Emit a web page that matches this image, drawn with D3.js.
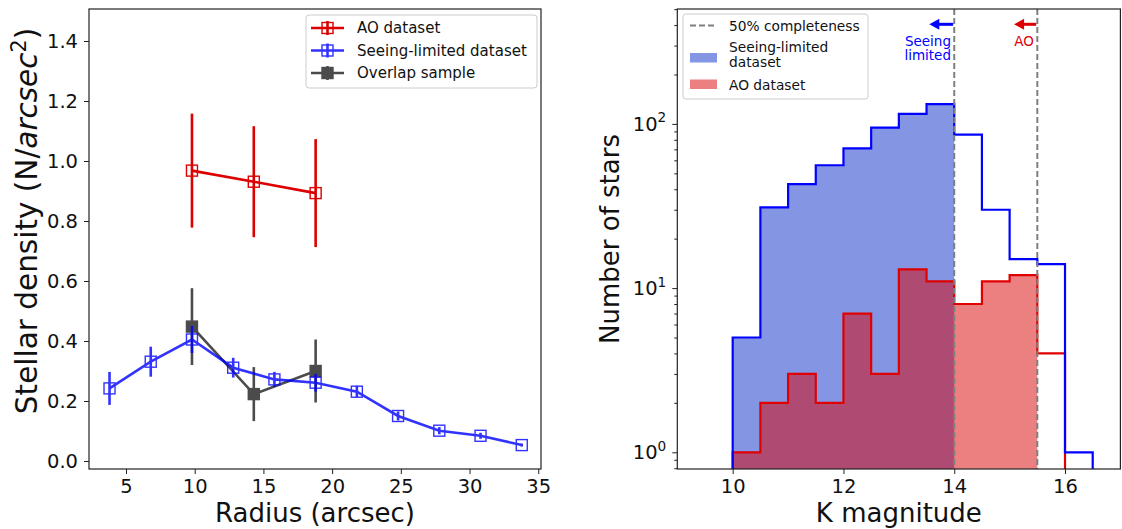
<!DOCTYPE html>
<html><head><meta charset="utf-8">
<script src="https://cdn.jsdelivr.net/npm/d3@7"></script>
<style>body{margin:0;background:#fff} svg text{font-family:"DejaVu Sans",sans-serif}</style>
</head><body><svg id="c" width="1122" height="529"></svg>
<script>
// ---------- data: left panel ----------
const blueRadius=[3.8,6.8,9.8,12.8,15.8,18.8,21.8,24.8,27.8,30.8,33.8];
const blueDensity=[0.242,0.331,0.405,0.311,0.272,0.261,0.231,0.150,0.101,0.084,0.053];
const blueErr=[0.055,0.050,0.045,0.033,0.025,0.030,0.020,0.015,0.012,0.010,0.005];
const aoRadius=[9.8,14.3,18.8];
const aoDensity=[0.968,0.931,0.893];
const aoErr=[0.19,0.185,0.18];
const overlapRadius=[9.8,14.3,18.8];
const overlapDensity=[0.448,0.223,0.300];
const overlapErr=[0.128,0.090,0.105];
const radiusTicks=[5,10,15,20,25,30,35];
const densityTicks=[0,0.2,0.4,0.6,0.8,1.0,1.2,1.4];
// ---------- data: right panel ----------
const binEdges=[10,10.5,11,11.5,12,12.5,13,13.5,14,14.5,15,15.5,16,16.5];
const seeingCounts=[5,31,43,56,71,95,115,132,86,30,15,14,1];
const aoCounts=[1,2,3,2,7,3,13,11,8,11,12,4];
const completeness=[14,15.5];
const magTicks=[10,12,14,16];
const countTicks=[1,10,100];

const svg=d3.select("#c");
const TICK_FS=19.5, LABEL_FS=26;

// ================= LEFT PANEL =================
const L={l:89,r:541,t:9,b:469};
const x1=d3.scaleLinear().domain([2.307,35.2]).range([L.l,L.r]);
const y1=d3.scaleLinear().domain([-0.0267,1.5067]).range([L.b,L.t]);

function styleAxis(g){
  g.select(".domain").remove();
  g.selectAll(".tick line").attr("stroke","#222").attr("stroke-width",1);
  g.selectAll(".tick text").attr("fill","#111").style("font-size",TICK_FS+"px");
}
svg.append("g").attr("transform",`translate(0,${L.b})`)
  .call(d3.axisBottom(x1).tickValues(radiusTicks).tickSize(5).tickPadding(5).tickFormat(d3.format("d")))
  .call(styleAxis);
svg.append("g").attr("transform",`translate(${L.l},0)`)
  .call(d3.axisLeft(y1).tickValues(densityTicks).tickSize(5).tickPadding(6).tickFormat(d3.format(".1f")))
  .call(styleAxis);

function drawSeries(xs,ys,es,color,opacity,filled){
  const g=svg.append("g").attr("opacity",opacity);
  const pts=xs.map((x,i)=>[x,ys[i],es[i]]);
  g.append("path").datum(pts)
    .attr("d",d3.line().x(d=>x1(d[0])).y(d=>y1(d[1])))
    .attr("fill","none").attr("stroke",color).attr("stroke-width",2.6);
  g.selectAll("line.err").data(pts).join("line")
    .attr("x1",d=>x1(d[0])).attr("x2",d=>x1(d[0]))
    .attr("y1",d=>y1(d[1]-d[2])).attr("y2",d=>y1(d[1]+d[2]))
    .attr("stroke",color).attr("stroke-width",2.6);
  g.selectAll("rect.m").data(pts).join("rect")
    .attr("x",d=>x1(d[0])-5.5).attr("y",d=>y1(d[1])-5.5)
    .attr("width",11).attr("height",11)
    .attr("fill",filled?color:"none").attr("stroke",color).attr("stroke-width",1.4);
}
drawSeries(aoRadius,aoDensity,aoErr,"#dd0000",1,false);
drawSeries(overlapRadius,overlapDensity,overlapErr,"#000",0.7,true);
drawSeries(blueRadius,blueDensity,blueErr,"#0000ff",0.8,false);

svg.append("rect").attr("x",L.l).attr("y",L.t).attr("width",L.r-L.l).attr("height",L.b-L.t)
  .attr("fill","none").attr("stroke","#222").attr("stroke-width",1.2);

// left legend
const lg=svg.append("g");
lg.append("rect").attr("x",306).attr("y",15).attr("width",231).attr("height",73).attr("rx",3)
  .attr("fill","#fff").attr("fill-opacity",0.8).attr("stroke","#ccc");
const legL=[{t:"AO dataset",c:"#dd0000",o:1,f:false},{t:"Seeing-limited dataset",c:"#0000ff",o:0.8,f:false},{t:"Overlap sample",c:"#000",o:0.7,f:true}];
legL.forEach((e,i)=>{
  const yy=28+i*22.5;
  const g=lg.append("g").attr("opacity",e.o);
  g.append("line").attr("x1",311).attr("x2",344).attr("y1",yy).attr("y2",yy).attr("stroke",e.c).attr("stroke-width",2.6);
  g.append("line").attr("x1",327.5).attr("x2",327.5).attr("y1",yy-7).attr("y2",yy+7).attr("stroke",e.c).attr("stroke-width",2.6);
  g.append("rect").attr("x",322).attr("y",yy-5.5).attr("width",11).attr("height",11)
    .attr("fill",e.f?e.c:"none").attr("stroke",e.c).attr("stroke-width",1.4);
  lg.append("text").attr("x",357).attr("y",yy+5.3).style("font-size","15px").attr("fill","#111").text(e.t);
});

// axis labels left
svg.append("text").attr("x",(L.l+L.r)/2).attr("y",522).attr("text-anchor","middle")
  .style("font-size",LABEL_FS+"px").attr("fill","#111").text("Radius (arcsec)");
const yl=svg.append("text").attr("transform",`translate(37,221) rotate(-90)`)
  .attr("text-anchor","middle").style("font-size","29.5px").attr("fill","#111");
yl.append("tspan").text("Stellar density (N/");
yl.append("tspan").attr("font-style","italic").text("arcsec");
yl.append("tspan").attr("dy","-0.55em").style("font-size","0.7em").text("2");
yl.append("tspan").attr("dy","0.385em").text(")");

// ================= RIGHT PANEL =================
const R={l:677.3,r:1120.4,t:9,b:469};
const x2=d3.scaleLinear().domain([9,17]).range([R.l,R.r]);
const y2=d3.scaleLog().domain([0.791,501]).range([R.b,R.t]);

svg.append("defs").append("clipPath").attr("id","clipR").append("rect")
  .attr("x",R.l).attr("y",R.t).attr("width",R.r-R.l).attr("height",R.b-R.t);
const plotR=svg.append("g").attr("clip-path","url(#clipR)");
const FLOOR=0.5;

function stepPoints(edges,counts){
  const pts=[[edges[0],FLOOR]];
  counts.forEach((c,i)=>{pts.push([edges[i],c]);pts.push([edges[i+1],c]);});
  pts.push([edges[counts.length],FLOOR]);
  return pts;
}
const lineR=d3.line().x(d=>x2(d[0])).y(d=>y2(Math.max(d[1],FLOOR)));
const seeFillN=binEdges.indexOf(completeness[0]);
const aoFillN=binEdges.indexOf(completeness[1]);
plotR.append("path").datum(stepPoints(binEdges,seeingCounts.slice(0,seeFillN)))
  .attr("d",lineR).attr("fill","#8495e4").attr("stroke","none");
plotR.append("path").datum(stepPoints(binEdges,aoCounts.slice(0,aoFillN)))
  .attr("d",lineR).attr("fill","rgb(217,0,0)").attr("fill-opacity",0.5).attr("stroke","none");
plotR.append("path").datum(stepPoints(binEdges,aoCounts))
  .attr("d",lineR).attr("fill","none").attr("stroke","#e00000").attr("stroke-width",2.2);
plotR.append("path").datum(stepPoints(binEdges,seeingCounts))
  .attr("d",lineR).attr("fill","none").attr("stroke","#0000ff").attr("stroke-width",2.2);
plotR.selectAll("line.comp").data(completeness).join("line")
  .attr("x1",d=>x2(d)).attr("x2",d=>x2(d)).attr("y1",R.t).attr("y2",R.b)
  .attr("stroke","#7f7f7f").attr("stroke-width",2).attr("stroke-dasharray","6,3");

svg.append("g").attr("transform",`translate(0,${R.b})`)
  .call(d3.axisBottom(x2).tickValues(magTicks).tickSize(5).tickPadding(5).tickFormat(d3.format("d")))
  .call(styleAxis);
const minor=[];
[0.1,1,10,100].forEach(p=>{for(let k=2;k<=9;k++){const v=k*p;if(v>0.791&&v<501)minor.push(v);}});
svg.append("g").attr("transform",`translate(${R.l},0)`)
  .call(d3.axisLeft(y2).tickValues(minor).tickSize(3).tickFormat(""))
  .call(styleAxis);
const ya=svg.append("g").attr("transform",`translate(${R.l},0)`)
  .call(d3.axisLeft(y2).tickValues(countTicks).tickSize(5).tickPadding(6).tickFormat(()=>""))
  .call(styleAxis);
ya.selectAll(".tick text").each(function(d){
  const t=d3.select(this);
  t.append("tspan").text("10");
  t.append("tspan").attr("dy","-0.6em").style("font-size","0.7em").text(Math.round(Math.log10(d)));
});
svg.append("rect").attr("x",R.l).attr("y",R.t).attr("width",R.r-R.l).attr("height",R.b-R.t)
  .attr("fill","none").attr("stroke","#222").attr("stroke-width",1.2);

// arrows + notes
function arrow(xFrom,xTo,y,color,lines,anchorX,anchor){
  const tx=x2(xTo);
  svg.append("line").attr("x1",x2(xFrom)).attr("x2",tx+8).attr("y1",y).attr("y2",y)
    .attr("stroke",color).attr("stroke-width",3);
  svg.append("path").attr("d",`M${tx},${y} L${tx+10},${y-5.5} L${tx+10},${y+5.5} Z`).attr("fill",color);
  lines.forEach((s,i)=>svg.append("text").attr("x",anchorX).attr("y",45.5+i*14)
    .attr("text-anchor",anchor).style("font-size","13.5px").attr("fill",color).text(s));
}
arrow(completeness[0]-0.02,13.55,24.3,"#0000ff",["Seeing","limited"],951,"end");
arrow(completeness[1]-0.02,15.08,24.3,"#dd0000",["AO"],1024,"middle");

// right legend
const rg=svg.append("g");
rg.append("rect").attr("x",683).attr("y",14).attr("width",185).attr("height",85).attr("rx",3)
  .attr("fill","#fff").attr("fill-opacity",0.8).attr("stroke","#ccc");
rg.append("line").attr("x1",690).attr("x2",717).attr("y1",25.5).attr("y2",25.5)
  .attr("stroke","#7f7f7f").attr("stroke-width",2).attr("stroke-dasharray","6,3");
rg.append("text").attr("x",729).attr("y",30.5).style("font-size","13.75px").attr("fill","#111").text("50% completeness");
rg.append("rect").attr("x",690).attr("y",53).attr("width",27).attr("height",9.5).attr("fill","#8495e4");
rg.append("text").attr("x",729).attr("y",52).style("font-size","13.75px").attr("fill","#111").text("Seeing-limited");
rg.append("text").attr("x",729).attr("y",67).style("font-size","13.75px").attr("fill","#111").text("dataset");
rg.append("rect").attr("x",690).attr("y",79.5).attr("width",27).attr("height",9.5).attr("fill","rgb(217,0,0)").attr("fill-opacity",0.5);
rg.append("text").attr("x",729).attr("y",89.5).style("font-size","13.75px").attr("fill","#111").text("AO dataset");

svg.append("text").attr("x",(R.l+R.r)/2).attr("y",522).attr("text-anchor","middle")
  .style("font-size",LABEL_FS+"px").attr("fill","#111").text("K magnitude");
svg.append("text").attr("transform",`translate(619,${(R.t+R.b)/2}) rotate(-90)`)
  .attr("text-anchor","middle").style("font-size","26px").attr("fill","#111").text("Number of stars");
</script></body></html>
